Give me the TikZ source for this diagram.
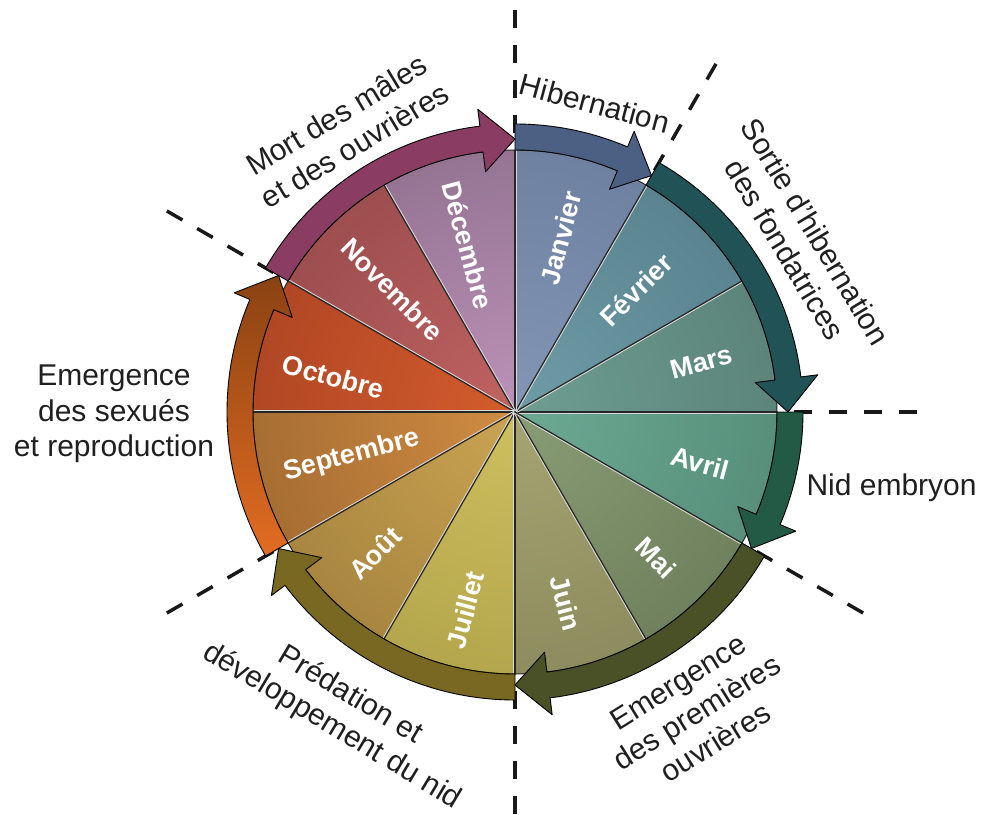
\documentclass[tikz,border=0pt]{standalone}
\usepackage{fontspec}
\setmainfont{Liberation Sans}
% month colours: centre / rim
\definecolor{janC}{HTML}{8496B6}\definecolor{janR}{HTML}{5A6C8C}
\definecolor{fevC}{HTML}{6E9CA6}\definecolor{fevR}{HTML}{466C7A}
\definecolor{marC}{HTML}{6E9E92}\definecolor{marR}{HTML}{4A6A64}
\definecolor{avrC}{HTML}{6CAA94}\definecolor{avrR}{HTML}{427462}
\definecolor{maiC}{HTML}{889C76}\definecolor{maiR}{HTML}{586844}
\definecolor{juiC}{HTML}{A6A472}\definecolor{juiR}{HTML}{74744A}
\definecolor{jutC}{HTML}{CEC05E}\definecolor{jutR}{HTML}{9A8C3A}
\definecolor{aouC}{HTML}{CAA452}\definecolor{aouR}{HTML}{88682E}
\definecolor{sepC}{HTML}{D08C42}\definecolor{sepR}{HTML}{7E5024}
\definecolor{octC}{HTML}{D45C2C}\definecolor{octR}{HTML}{8E321E}
\definecolor{novC}{HTML}{C06262}\definecolor{novR}{HTML}{7A3A3C}
\definecolor{decC}{HTML}{BC92B8}\definecolor{decR}{HTML}{6E566E}
% phase arrows
\definecolor{hibA}{HTML}{4C6084}
\definecolor{sorA}{HTML}{215255}
\definecolor{nidA}{HTML}{235A45}
\definecolor{ouvA}{HTML}{4A5126}
\definecolor{preA}{HTML}{786822}
\definecolor{sexT}{HTML}{8A4212}\definecolor{sexB}{HTML}{E26C22}
\definecolor{morA}{HTML}{8A3C62}
\begin{document}
\begin{tikzpicture}[x=1pt, y=1pt, line join=round,
 phase/.style={font=\fontsize{30}{35.5}\selectfont, align=center, text=black!88},
 month/.style={font=\fontsize{27}{30}\selectfont\bfseries, text=white},
 cut/.style={line width=3.5pt, dash pattern=on 18pt off 17pt, color=black!90}]
 \def \R{262}\def \ri{262}\def \ro{288}\def \hi{242}\def \ho{305}\def \rt{273}\def \hl{7}
 \useasboundingbox (-515,-402) rectangle (469,412);
 % dashed cuts between the phases
 \foreach \a in {90,60,0,-30,-90,-150,150}
  \draw[cut] (\a:402) -- (\a:268);
 % the twelve months
 \foreach \a/\ci/\co in {90/janC/janR,60/fevC/fevR,30/marC/marR,0/avrC/avrR,-30/maiC/maiR,-60/juiC/juiR,
  -90/jutC/jutR,-120/aouC/aouR,-150/sepC/sepR,-180/octC/octR,-210/novC/novR,-240/decC/decR}{
  \begin{scope}
   \clip (0,0) -- (\a:\R) arc (\a:\a-30:\R) -- cycle;
   \shade[inner color=\ci, outer color=\co] (0,0) circle (524);
  \end{scope}}
 \foreach \a in {0,30,...,330}{
  \draw[white!70!gray, line width=1pt] ([shift={(\a-90:1.2)}]0,0) -- ([shift={(\a-90:1.2)}]\a:\R);
  \draw[black!85, line width=1.2pt] (0,0) -- (\a:\R);}
 \draw[black!85, line width=1pt] (0,0) circle (\R);
 \foreach \n/\t/\a/\r/\rot in {jan/Janvier/75.2/180/75, fev/Février/45.2/172/45, mar/Mars/15/193/15,
  avr/Avril/-15.4/192/-15, mai/Mai/-46/203/-45, jui/Juin/-75/198/-75, jut/Juillet/-104/204/75,
  aou/Août/-134.8/199/45, sep/Septembre/-165/169/15, oct/Octobre/169/185/-15,
  nov/Novembre/135/173/-45, dec/Décembre/105.7/173/-75}
  \node[month, rotate=\rot] (\n) at (\a:\r) {\t};
 % phase arrows, clockwise: start, end, fill
 \def\phasearrow#1#2#3{%
  \pgfmathsetmacro\hb{#2+\hl}
  \draw[black, line width=0.9pt, #3] (#1:\ri) -- (#1:\ro) arc (#1:\hb:\ro) -- (\hb:\ho) -- (#2:\rt)
   -- (\hb:\hi) -- (\hb:\ri) arc (\hb:#1:\ri) -- cycle;}
 \phasearrow{90}{60}{fill=hibA}
 \phasearrow{60}{0}{fill=sorA}
 \phasearrow{0}{-30}{fill=nidA}
 \phasearrow{-30}{-90}{fill=ouvA}
 \phasearrow{-90}{-150}{fill=preA}
 \phasearrow{-150}{-210}{top color=sexT, bottom color=sexB}
 \phasearrow{150}{90}{fill=morA}
 % phase labels
 \node[phase, rotate=-15] (hib) at (75.5:319) {Hibernation};
 \node[phase, rotate=-59] (sor) at (31:333) {Sortie d’hibernation\\des fondatrices};
 \node[phase, anchor=west] (nid) at (288,-76) {Nid embryon};
 \node[phase, rotate=32] (ouv) at (-58.8:351) {Emergence\\des premières\\ouvrières};
 \node[phase, rotate=-31] (pre) at (-120.2:346) {Prédation et\\développement du nid};
 \node[phase] (sex) at (-401,-2) {Emergence\\des sexués\\et reproduction};
 \node[phase, rotate=31] (mor) at (121:329) {Mort des mâles\\et des ouvrières};
\end{tikzpicture}
\end{document}
